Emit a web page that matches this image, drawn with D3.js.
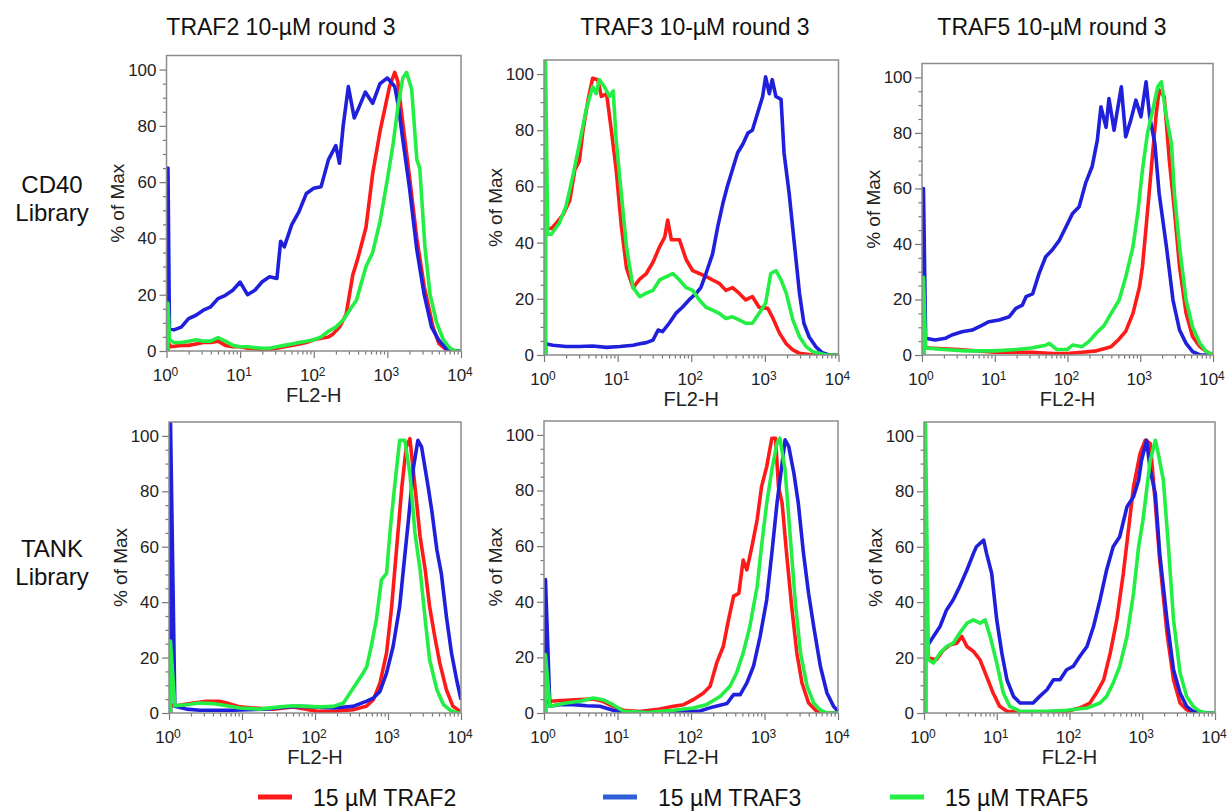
<!DOCTYPE html>
<html>
<head>
<meta charset="utf-8">
<script src="https://cdn.jsdelivr.net/npm/d3@7"></script>
<style>
  body { margin: 0; background: #fff; }
  text { font-family: "Liberation Sans", Arial, sans-serif; }
  .axis line { stroke: #777; stroke-width: 1.2; }
  .axis path { display: none; }
</style>
</head>
<body>
<svg id="chart" width="1227" height="811"></svg>
<script>
// column / row / legend labels
var colTitles = ["TRAF2 10-\u00b5M round 3", "TRAF3 10-\u00b5M round 3", "TRAF5 10-\u00b5M round 3"];
var rowTitles = [["CD40", "Library"], ["TANK", "Library"]];
var seriesNames = ["15 \u00b5M TRAF2", "15 \u00b5M TRAF3", "15 \u00b5M TRAF5"];
var seriesColors = ["#ff1a1a", "#2020dc", "#22ee44"];
var legendColors = ["#ff1a1a", "#2f5fd8", "#22ee44"];
var yTicks = [0, 20, 40, 60, 80, 100];
var xDecades = [0, 1, 2, 3, 4];
var xLabel = "FL2-H", yLabel = "% of Max";

// each point: [log10(FL2-H), % of max]
// CD40 library, TRAF2 round 3
var cd40_t2_red = [[0.02,0],[0.02,3],[0.06,1.5],[0.2,2],[0.3,2],[0.4,2.5],[0.5,3],[0.6,3],[0.7,3.5],[0.8,2],[0.9,1.5],[1.0,1.5],[1.1,1],[1.2,0.8],[1.3,0.5],[1.4,0.5],[1.5,1],[1.6,1.5],[1.7,2],[1.8,2.5],[1.9,3],[2.0,4],[2.1,4.5],[2.2,5],[2.26,6],[2.35,8.5],[2.44,13],[2.53,27],[2.6,33],[2.71,44],[2.8,63],[2.9,78],[2.94,83],[3.03,94],[3.1,99],[3.14,96],[3.2,83],[3.3,62],[3.4,40],[3.5,23],[3.62,8.5],[3.7,2.6],[3.8,0.5],[3.9,0],[4,0]];
var cd40_t2_blue = [[0.02,0],[0.02,65],[0.04,8],[0.1,7.5],[0.2,8.5],[0.3,11.5],[0.4,12.7],[0.5,14.5],[0.6,15.7],[0.7,18.6],[0.8,19.8],[0.9,21.6],[1.0,24.5],[1.1,20],[1.2,21.6],[1.3,24.6],[1.4,26.4],[1.5,25.8],[1.55,39],[1.6,37],[1.7,44.8],[1.8,49.5],[1.9,56],[2.0,57.8],[2.1,58.4],[2.2,68],[2.3,73],[2.35,66.7],[2.4,80],[2.47,94],[2.55,82.8],[2.6,85.7],[2.7,92],[2.8,88],[2.9,95],[3.0,97],[3.1,94],[3.15,87],[3.2,77],[3.3,58],[3.4,36],[3.5,20],[3.6,8.5],[3.7,3.8],[3.8,0.8],[3.9,0.2],[4,0]];
var cd40_t2_green = [[0.02,0],[0.02,17],[0.04,4],[0.1,3],[0.2,3],[0.3,3.5],[0.4,4],[0.5,3.5],[0.6,3.5],[0.7,4.8],[0.8,3.5],[0.9,2],[1.0,1.5],[1.1,1.5],[1.2,1.2],[1.3,1],[1.4,1],[1.5,1.5],[1.6,2],[1.7,2.5],[1.8,3],[1.9,3.5],[2.0,4],[2.1,5],[2.2,7],[2.3,8.5],[2.4,11],[2.5,15],[2.58,18],[2.71,30],[2.8,35],[2.9,46],[3.0,61],[3.08,74],[3.15,88],[3.21,97],[3.26,99],[3.33,93],[3.4,68],[3.44,65],[3.51,37],[3.58,20],[3.67,10],[3.76,4],[3.85,1],[3.93,0],[4,0]];
// CD40 library, TRAF3 round 3
var cd40_t3_red = [[0.02,0],[0.02,45],[0.1,45],[0.17,47],[0.26,50],[0.35,55],[0.42,66],[0.48,69],[0.53,80],[0.6,91],[0.66,98.5],[0.73,98],[0.78,92],[0.85,93],[0.91,81],[0.98,66],[1.05,46],[1.12,31],[1.21,24],[1.3,27],[1.39,29],[1.48,33],[1.57,38.5],[1.64,42],[1.68,48],[1.73,41],[1.84,41],[1.93,34],[2.02,30],[2.11,29],[2.2,28],[2.29,26.7],[2.38,25.5],[2.47,23],[2.56,24],[2.65,22],[2.74,19.6],[2.83,20.8],[2.92,17],[3.04,16.6],[3.1,13.6],[3.2,7.7],[3.29,4],[3.38,1.8],[3.47,0.6],[3.65,0],[4,0]];
var cd40_t3_blue = [[0.02,0],[0.02,4],[0.12,3.5],[0.3,3],[0.48,3],[0.66,3.2],[0.85,2.7],[1.03,3],[1.21,3.5],[1.3,4],[1.39,4.4],[1.48,5.3],[1.55,8.9],[1.61,8.3],[1.7,11.3],[1.79,14.8],[1.88,17],[1.97,19.6],[2.07,22],[2.13,24],[2.2,29],[2.29,36],[2.36,45.7],[2.43,54],[2.49,60],[2.56,66],[2.63,72],[2.7,75],[2.77,79],[2.83,80],[2.9,86],[2.97,92],[3.01,99],[3.06,93],[3.1,98],[3.15,92],[3.22,91],[3.26,72],[3.33,57.5],[3.4,39.7],[3.47,22],[3.53,11.3],[3.6,6.5],[3.69,3],[3.78,0.8],[3.87,0],[4,0]];
var cd40_t3_green = [[0.02,0],[0.02,106],[0.05,43],[0.1,43],[0.21,47],[0.3,53],[0.39,63.5],[0.48,75],[0.57,87],[0.66,95.5],[0.71,93],[0.75,98],[0.82,95.5],[0.89,92],[0.94,94],[0.98,76.5],[1.05,57.5],[1.12,38.5],[1.21,24],[1.3,20.8],[1.39,22],[1.48,23],[1.57,26.7],[1.75,29],[1.84,26.7],[1.93,24],[2.02,23],[2.11,19.6],[2.2,17],[2.29,16],[2.38,14.8],[2.47,13],[2.56,13.6],[2.65,12.5],[2.74,11.3],[2.83,11.3],[2.92,14.8],[3.01,18.4],[3.08,29],[3.15,30],[3.22,26.7],[3.29,22],[3.38,12.5],[3.47,6.5],[3.56,3],[3.65,1.2],[3.74,0.6],[3.83,0],[4,0]];
// CD40 library, TRAF5 round 3
var cd40_t5_red = [[0.02,0],[0.02,3],[0.1,2.5],[0.5,2],[1.0,1],[1.5,1],[1.8,0.5],[2.0,0.5],[2.2,1],[2.4,1.5],[2.6,3],[2.7,5.5],[2.8,8.5],[2.9,15],[2.99,24.6],[3.03,31.8],[3.08,46],[3.13,60.6],[3.17,72.6],[3.22,87],[3.26,95.4],[3.33,93],[3.4,70],[3.47,52],[3.54,31.8],[3.63,15],[3.72,6.6],[3.82,3],[3.91,1.2],[4,0]];
var cd40_t5_blue = [[0.02,0],[0.02,60],[0.05,6],[0.18,5.4],[0.32,6],[0.41,7.2],[0.55,8.4],[0.69,9],[0.83,10.8],[0.92,12],[1.06,12.6],[1.2,13.8],[1.29,16.8],[1.38,18],[1.43,21],[1.52,22],[1.61,29.4],[1.7,35.4],[1.79,37.8],[1.89,41.4],[1.98,46.2],[2.07,51],[2.16,53.4],[2.25,62],[2.34,68],[2.41,77.4],[2.46,89.4],[2.53,82],[2.57,92.4],[2.64,81],[2.74,96.6],[2.8,78.6],[2.87,84.6],[2.94,91.8],[3.01,85.8],[3.08,98.4],[3.13,85.8],[3.2,76.2],[3.26,58.2],[3.36,39],[3.45,19.8],[3.54,9],[3.63,4.2],[3.72,1.2],[3.82,0],[4,0]];
var cd40_t5_green = [[0.02,0],[0.02,28],[0.05,2.5],[0.3,2],[0.6,1.5],[1.0,1.5],[1.3,2],[1.5,2.5],[1.7,3.5],[1.75,4.2],[1.85,2],[2.0,2],[2.07,3.6],[2.2,3],[2.3,5],[2.4,8],[2.5,10.5],[2.6,15],[2.71,19.8],[2.8,28],[2.9,39],[2.97,52],[3.03,66.6],[3.1,80],[3.17,88],[3.24,96.6],[3.29,98.4],[3.36,85.8],[3.43,76],[3.47,58],[3.54,39],[3.63,19.8],[3.72,10],[3.82,4.2],[3.91,1.2],[4,0]];
// TANK library, TRAF2 round 3
var tank_t2_red = [[0.02,0],[0.02,3],[0.1,2.6],[0.33,3.6],[0.51,4.2],[0.69,4.2],[0.79,3.6],[0.97,2.2],[1.15,1.8],[1.43,1.4],[1.7,2.2],[1.88,1.4],[2.02,0.6],[2.25,0.6],[2.52,1.2],[2.7,2.4],[2.8,4.8],[2.89,10.8],[2.98,21.6],[3.05,38.4],[3.12,60],[3.19,81.6],[3.25,96],[3.3,99],[3.37,81.6],[3.44,63.6],[3.51,51.6],[3.57,38.4],[3.64,27.6],[3.71,18],[3.8,8.4],[3.89,2.4],[3.99,0.6]];
var tank_t2_blue = [[0.02,0],[0.02,106],[0.08,2.4],[0.24,1.4],[0.42,1],[0.88,1],[1.33,1.4],[1.61,2.2],[1.79,2.4],[1.97,2.2],[2.25,1.8],[2.52,2.4],[2.7,4.2],[2.8,5.4],[2.89,7.8],[2.98,14.4],[3.07,24],[3.16,38.4],[3.21,51.6],[3.28,69.6],[3.35,88.8],[3.41,98.4],[3.46,96],[3.55,81.6],[3.6,73],[3.67,58.8],[3.73,50.4],[3.8,34.8],[3.87,21.6],[3.94,12],[4.0,4.8]];
var tank_t2_green = [[0.02,0],[0.02,26],[0.08,2.6],[0.24,3],[0.42,3.6],[0.6,3.4],[0.79,2.6],[0.97,1.8],[1.24,1.4],[1.52,2.2],[1.7,2.6],[1.88,2.4],[2.07,2.2],[2.25,2.4],[2.39,3.6],[2.48,7.2],[2.57,10.8],[2.66,14.4],[2.71,16.8],[2.77,24],[2.84,33.6],[2.91,48],[2.98,50.4],[3.03,66],[3.09,81.6],[3.16,98.4],[3.23,98.4],[3.3,86.4],[3.37,64.8],[3.44,51.6],[3.51,33.6],[3.57,19.2],[3.67,8.4],[3.76,3],[3.85,1],[3.94,0],[4,0]];
// TANK library, TRAF3 round 3
var tank_t3_red = [[0.02,0],[0.02,4],[0.08,4.2],[0.3,4.6],[0.49,4.8],[0.67,5],[0.8,4.2],[0.94,2.4],[1.08,1],[1.3,0.5],[1.58,1.4],[1.76,2.4],[1.9,3],[2.03,4.8],[2.17,7.2],[2.26,9.6],[2.35,18],[2.44,24],[2.51,33.5],[2.58,42],[2.65,43],[2.71,55],[2.76,51.5],[2.83,60],[2.9,69.5],[2.96,81.4],[3.03,88.6],[3.1,98.8],[3.15,98.8],[3.19,81.4],[3.24,75.4],[3.3,57.5],[3.37,38.3],[3.44,21.6],[3.51,10.8],[3.6,3.6],[3.71,0.6],[3.8,0],[4,0]];
var tank_t3_blue = [[0.02,0],[0.02,48],[0.08,2.4],[0.21,3],[0.4,3],[0.58,2.6],[0.76,2.4],[0.94,1],[1.12,0.2],[1.4,0.2],[1.67,0.5],[1.94,0.5],[2.12,0.7],[2.3,2.2],[2.49,3.4],[2.58,6.6],[2.67,6.6],[2.76,10.8],[2.85,16.8],[2.94,27.5],[3.03,40.7],[3.1,57.5],[3.17,75.4],[3.24,89.8],[3.28,98.2],[3.33,95.8],[3.4,86.2],[3.46,75.4],[3.53,57.5],[3.6,43],[3.67,31],[3.76,16.8],[3.85,7.2],[3.94,2.4],[4,0.6]];
var tank_t3_green = [[0.02,0],[0.02,21],[0.08,2.4],[0.3,3.6],[0.49,4.2],[0.67,5.4],[0.8,4.8],[0.94,3],[1.08,0.6],[1.4,0.2],[1.76,1],[2.03,1.8],[2.21,3],[2.4,6],[2.53,9.6],[2.62,14.4],[2.71,21.6],[2.8,31],[2.9,45.5],[2.96,60],[3.03,75.4],[3.1,87.4],[3.17,97],[3.21,98.8],[3.28,87.4],[3.35,63.5],[3.42,39.5],[3.49,21.6],[3.58,9.6],[3.67,3.6],[3.76,1],[3.85,0],[4,0]];
// TANK library, TRAF5 round 3
var tank_t5_red = [[0.02,0],[0.02,20],[0.08,19.8],[0.17,19.2],[0.27,22.8],[0.36,24.6],[0.45,25.2],[0.52,27.6],[0.59,24],[0.68,22.2],[0.77,19.2],[0.86,13.2],[0.95,7.2],[1.04,2.4],[1.14,0.6],[1.41,0.2],[1.69,0],[1.96,0.6],[2.14,1.8],[2.28,3.6],[2.37,7.2],[2.47,12],[2.56,21.6],[2.65,33.6],[2.74,50.4],[2.81,66],[2.88,81.6],[2.97,93.6],[3.04,98.4],[3.11,97.2],[3.18,75.6],[3.24,55.2],[3.34,28.8],[3.43,12],[3.52,3.6],[3.61,1.2],[3.7,0],[4,0]];
var tank_t5_blue = [[0.02,0],[0.02,25],[0.04,24],[0.13,27.6],[0.22,31.2],[0.31,37.2],[0.4,40.8],[0.49,45.6],[0.59,51.6],[0.68,57.6],[0.72,60],[0.82,62.4],[0.86,57.6],[0.93,50.4],[1.0,33.6],[1.07,21.6],[1.14,12],[1.23,6],[1.32,3.6],[1.41,3.6],[1.5,3.6],[1.59,6],[1.69,8.4],[1.78,12],[1.87,12],[1.96,15.6],[2.05,16.8],[2.14,20.4],[2.24,24],[2.33,31.2],[2.42,40.8],[2.51,51.6],[2.6,60],[2.69,63.6],[2.79,74.4],[2.88,78],[2.95,84],[2.99,91.2],[3.06,98.4],[3.11,87.6],[3.18,79],[3.24,57.6],[3.34,33.6],[3.43,15.6],[3.52,7.2],[3.61,2.4],[3.7,0.6],[3.79,0],[4,0]];
var tank_t5_green = [[0.02,0],[0.02,106],[0.06,19.2],[0.13,18],[0.22,21.6],[0.31,24],[0.4,25.2],[0.49,28.8],[0.59,32.4],[0.68,33.6],[0.77,32.4],[0.84,33.6],[0.91,27.6],[1.0,18],[1.09,7.2],[1.18,2.4],[1.32,0.6],[1.69,0.6],[1.96,1],[2.24,1.8],[2.42,3.6],[2.51,6],[2.6,10.8],[2.69,16.8],[2.79,27.6],[2.88,43.2],[2.95,60],[3.01,69.6],[3.06,80.4],[3.11,91.2],[3.18,98.4],[3.22,93.6],[3.29,84],[3.36,60],[3.43,33.6],[3.52,14.4],[3.61,6],[3.7,2.4],[3.79,0.6],[3.89,0],[4,0]];

var panelSeries = [
  [cd40_t2_red, cd40_t2_blue, cd40_t2_green],
  [cd40_t3_red, cd40_t3_blue, cd40_t3_green],
  [cd40_t5_red, cd40_t5_blue, cd40_t5_green],
  [tank_t2_red, tank_t2_blue, tank_t2_green],
  [tank_t3_red, tank_t3_blue, tank_t3_green],
  [tank_t5_red, tank_t5_blue, tank_t5_green]
];

// frame of each plot (pixels)
var layout = [
  {left: 166.5, right: 461,  top: 55.5, bottom: 351},
  {left: 544,   right: 838.5, top: 60,  bottom: 355},
  {left: 922,   right: 1213, top: 63.5, bottom: 355},
  {left: 169,   right: 461,  top: 422,  bottom: 713},
  {left: 544,   right: 838,  top: 421,  bottom: 713},
  {left: 924,   right: 1215, top: 422,  bottom: 713}
];

var svg = d3.select("#chart");

var majorX = xDecades.map(function(d) { return Math.pow(10, d); });
var minorX = [];
xDecades.slice(0, -1).forEach(function(d) {
  for (var k = 2; k <= 9; k++) minorX.push(k * Math.pow(10, d));
});
var minorY = d3.range(5, 105, 5).filter(function(v) { return v % 20 !== 0; });

panelSeries.forEach(function(series, i) {
  var L = layout[i];
  var w = L.right - L.left, h = L.bottom - L.top;

  var x = d3.scaleLog().domain([1, 1e4]).range([0, w]);
  var y = d3.scaleLinear().domain([0, 105]).range([h, 0]);

  var g = svg.append("g").attr("transform", "translate(" + L.left + "," + L.top + ")");

  g.append("clipPath").attr("id", "clip" + i)
    .append("rect").attr("width", w).attr("height", h);

  // y axis ticks
  g.append("g").attr("class", "axis")
    .call(d3.axisLeft(y).tickValues(yTicks).tickSize(7).tickPadding(3).tickFormat(d3.format("d")))
    .selectAll("text")
      .attr("font-size", 17)
      .attr("fill", "#222")
      .style("font-family", "'Liberation Sans', Arial, sans-serif");
  g.append("g").attr("class", "axis")
    .call(d3.axisLeft(y).tickValues(minorY).tickSize(3.5).tickFormat(""));

  // x axis ticks
  g.append("g").attr("class", "axis").attr("transform", "translate(0," + h + ")")
    .call(d3.axisBottom(x).tickValues(majorX).tickSize(7).tickFormat(""));
  g.append("g").attr("class", "axis").attr("transform", "translate(0," + h + ")")
    .call(d3.axisBottom(x).tickValues(minorX).tickSize(3.5).tickFormat(""));

  var lab = g.append("g").selectAll("text")
    .data(xDecades)
    .enter().append("text")
      .attr("x", function(d) { return x(Math.pow(10, d)) - 1; })
      .attr("y", h + 30)
      .attr("text-anchor", "middle")
      .attr("font-size", 17)
      .attr("fill", "#222");
  lab.append("tspan").text("10");
  lab.append("tspan").attr("dy", "-0.45em").attr("font-size", 12).text(function(d) { return d; });

  // axis titles
  g.append("text")
    .attr("x", w / 2).attr("y", h + 51)
    .attr("text-anchor", "middle")
    .attr("font-size", 20)
    .attr("fill", "#222")
    .text(xLabel);
  g.append("text")
    .attr("transform", "translate(-49," + (h / 2) + ") rotate(-90)")
    .attr("dy", "0.35em")
    .attr("text-anchor", "middle")
    .attr("font-size", 19)
    .attr("fill", "#222")
    .text(yLabel);

  // histograms
  var line = d3.line()
    .x(function(d) { return x(Math.pow(10, d[0])); })
    .y(function(d) { return y(d[1]); });

  g.append("g").attr("clip-path", "url(#clip" + i + ")")
    .selectAll("path")
    .data(series)
    .enter().append("path")
      .attr("d", line)
      .attr("fill", "none")
      .attr("stroke", function(d, j) { return seriesColors[j]; })
      .attr("stroke-width", 3.6)
      .attr("stroke-linejoin", "round");

  // frame
  g.append("rect")
    .attr("width", w).attr("height", h)
    .attr("fill", "none")
    .attr("stroke", "#8c8c8c")
    .attr("stroke-width", 1.5);
});

// column titles
var titleX = [281, 695, 1052];
svg.selectAll(".coltitle")
  .data(colTitles)
  .enter().append("text")
    .attr("class", "coltitle")
    .attr("x", function(d, i) { return titleX[i]; })
    .attr("y", 35)
    .attr("text-anchor", "middle")
    .attr("font-size", 23)
    .attr("fill", "#111")
    .text(function(d) { return d; });

// row titles
var rowY = [193, 557];
rowTitles.forEach(function(r, i) {
  var t = svg.append("text")
    .attr("x", 52).attr("y", rowY[i])
    .attr("text-anchor", "middle")
    .attr("font-size", 24)
    .attr("fill", "#111");
  t.append("tspan").attr("x", 52).text(r[0]);
  t.append("tspan").attr("x", 52).attr("dy", 28).text(r[1]);
});

// legend
var legendX = [258, 603, 890];
var leg = svg.selectAll(".leg")
  .data(seriesNames)
  .enter().append("g")
    .attr("class", "leg")
    .attr("transform", function(d, i) { return "translate(" + legendX[i] + ",797)"; });
leg.append("line")
  .attr("x1", 0).attr("x2", 34)
  .attr("stroke", function(d, i) { return legendColors[i]; })
  .attr("stroke-width", 5);
leg.append("text")
  .attr("x", 55).attr("y", 9)
  .attr("font-size", 23)
  .attr("fill", "#111")
  .text(function(d) { return d; });
</script>
</body>
</html>
